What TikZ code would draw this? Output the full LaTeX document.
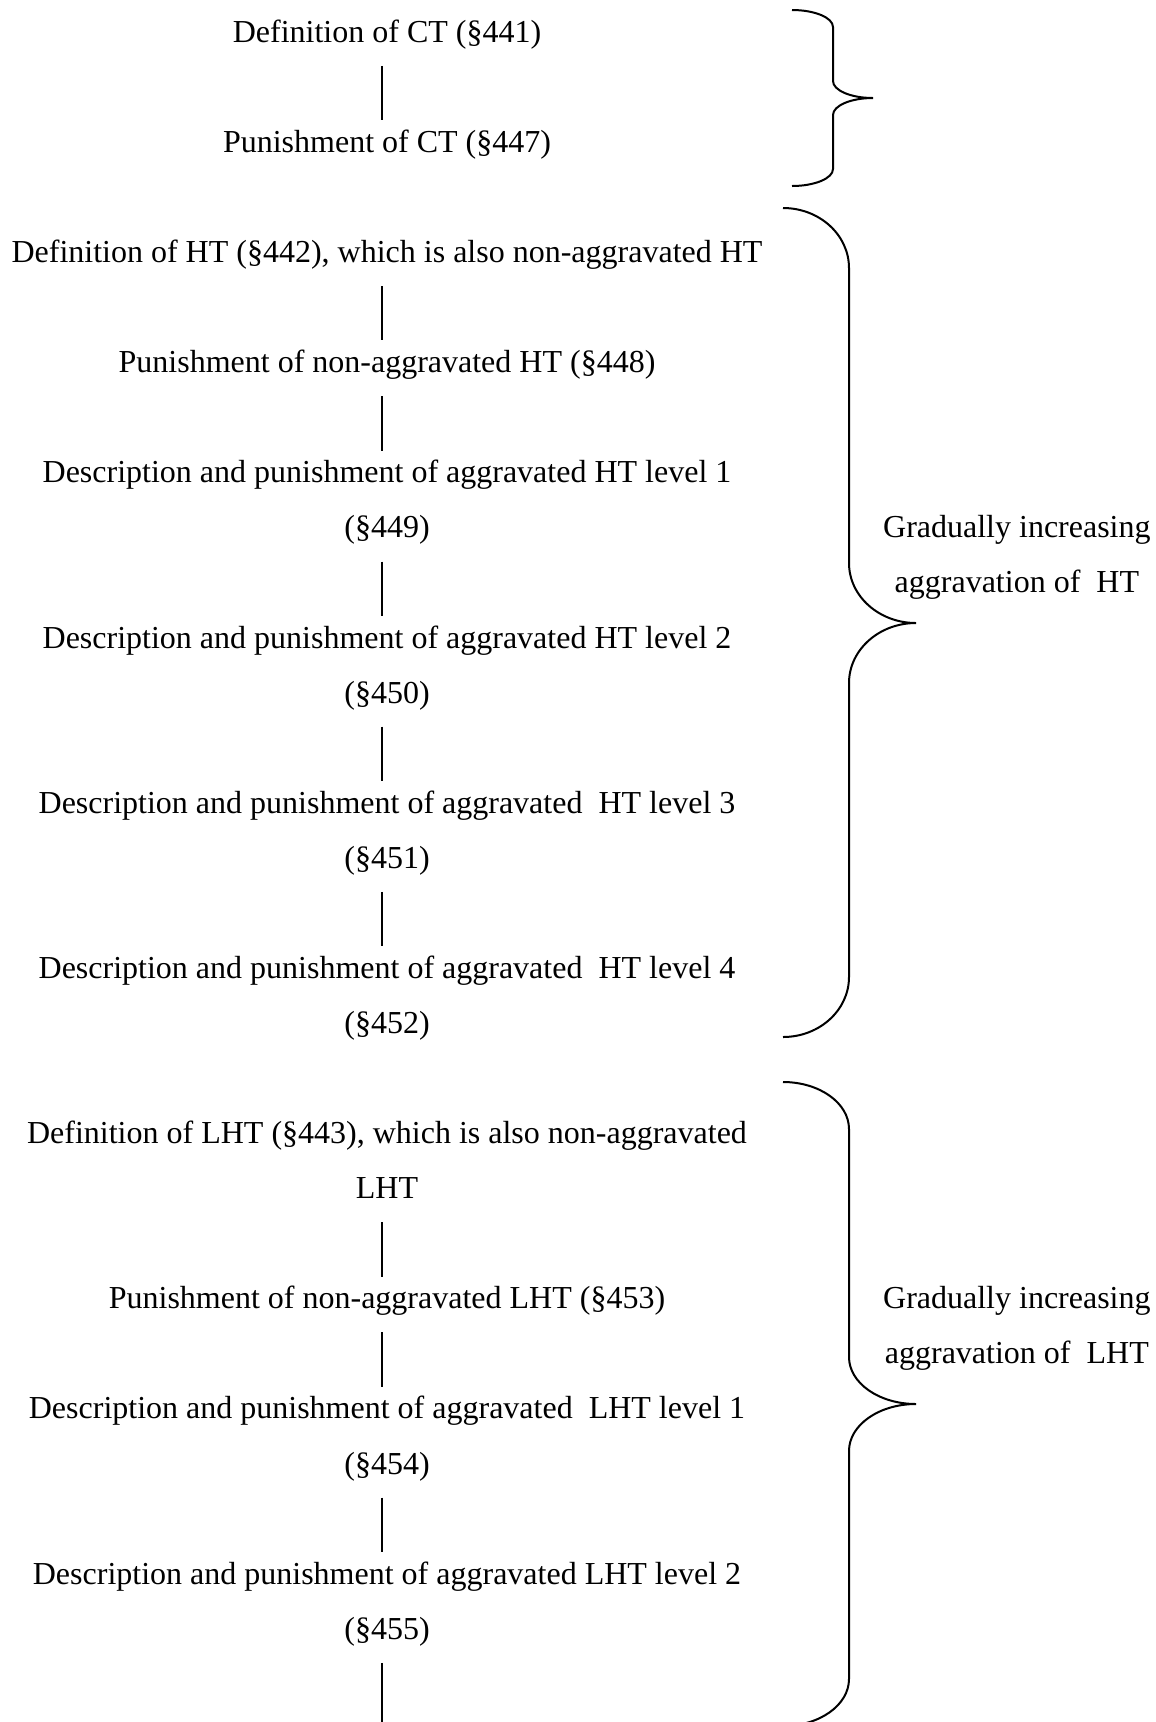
\documentclass[tikz,border=0pt]{standalone}
\usepackage{fontspec}
\setmainfont{Liberation Serif}

\begin{document}
\begin{tikzpicture}[-,line width=0.75pt,x=0.375pt,y=-0.375pt,node distance=41.3pt,
  every node/.style={font=\fontsize{12}{14}\selectfont,text height=6.6pt,text depth=3.4pt,inner ysep=5.1pt,inner xsep=0pt},
  every edge/.append style={transform canvas={xshift=-2pt}}]
\useasboundingbox (0,0) rectangle (1156,1722);
\clip (0,0) rectangle (1156,1722);
\node (ct1) at (387,38) {Definition of CT (§441)};
\node (ct2) [below of=ct1] {Punishment of CT (§447)};
\node (ht1) [below of=ct2] {Definition of HT (§442), which is also non-aggravated HT};
\node (ht2) [below of=ht1] {Punishment of non-aggravated HT (§448)};
\node (ht3) [below of=ht2] {Description and punishment of aggravated HT level 1};
\node (ht3p) [below of=ht3,node distance=20.65pt] {(§449)};
\node (ht4) [below of=ht3p] {Description and punishment of aggravated HT level 2};
\node (ht4p) [below of=ht4,node distance=20.65pt] {(§450)};
\node (ht5) [below of=ht4p] {Description and punishment of aggravated\ \ HT level 3};
\node (ht5p) [below of=ht5,node distance=20.65pt] {(§451)};
\node (ht6) [below of=ht5p] {Description and punishment of aggravated\ \ HT level 4};
\node (ht6p) [below of=ht6,node distance=20.65pt] {(§452)};
\node (lht1) [below of=ht6p] {Definition of LHT (§443), which is also non-aggravated};
\node (lht1p) [below of=lht1,node distance=20.65pt] {LHT};
\node (lht2) [below of=lht1p] {Punishment of non-aggravated LHT (§453)};
\node (lht3) [below of=lht2] {Description and punishment of aggravated\ \ LHT level 1};
\node (lht3p) [below of=lht3,node distance=20.65pt] {(§454)};
\node (lht4) [below of=lht3p] {Description and punishment of aggravated LHT level 2};
\node (lht4p) [below of=lht4,node distance=20.65pt] {(§455)};
\coordinate (lhtend) at (387,1730);
% labels next to the braces
\node (hr1) [right of=ht3p,node distance=236.2pt] {Gradually increasing};
\node (hr2) [below of=hr1,node distance=20.65pt] {aggravation of\ \ HT};
\node (lr1) [right of=lht2,node distance=236.2pt] {Gradually increasing};
\node (lr2) [below of=lr1,node distance=20.65pt] {aggravation of\ \ LHT};
\path (ct1) edge (ct2)
      (ht1) edge (ht2)
      (ht2) edge (ht3)
      (ht3p) edge (ht4)
      (ht4p) edge (ht5)
      (ht5p) edge (ht6)
      (lht1p) edge (lht2)
      (lht2) edge (lht3)
      (lht3p) edge (lht4)
      (lht4p) edge (lhtend)
;
% braces
\draw (792,10) .. controls (814.6,10) and (833,17.6) .. (833,27) -- (833,81)
      .. controls (833,90.4) and (850.9,98) .. (873,98)
      .. controls (850.9,98) and (833,105.6) .. (833,115) -- (833,169)
      .. controls (833,178.4) and (814.6,186) .. (792,186);
\draw (783,208) .. controls (819.5,208) and (849,234.9) .. (849,268) -- (849,563)
      .. controls (849,596.1) and (879,623) .. (916,623)
      .. controls (879,623) and (849,649.9) .. (849,683) -- (849,977)
      .. controls (849,1010.1) and (819.5,1037) .. (783,1037);
\draw (783,1082) .. controls (819.5,1082) and (849,1103) .. (849,1129) -- (849,1357)
      .. controls (849,1383) and (879,1404) .. (916,1404)
      .. controls (879,1404) and (849,1425) .. (849,1451) -- (849,1679)
      .. controls (849,1705) and (819.5,1726) .. (783,1726);
\end{tikzpicture}
\end{document}
